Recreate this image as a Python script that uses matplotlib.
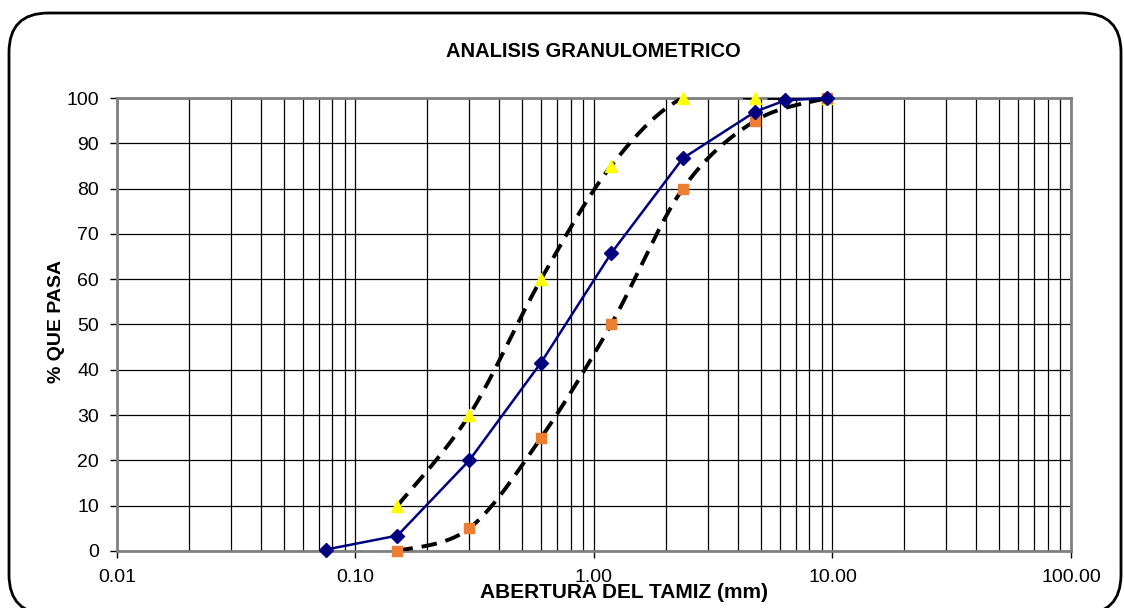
import numpy as np
import matplotlib.pyplot as plt
from matplotlib.patches import FancyBboxPatch
from matplotlib.ticker import FixedLocator, FuncFormatter, LogLocator, NullFormatter

plt.rcParams['font.family'] = ['Liberation Sans', 'DejaVu Sans']

# sieve openings (mm) and % passing
sieve = [0.075, 0.15, 0.30, 0.60, 1.18, 2.36, 4.75, 6.35, 9.525]
passing = [0.3, 3.4, 20.0, 41.6, 65.7, 86.7, 97.0, 99.5, 100.0]

lim_sieve = [0.15, 0.30, 0.60, 1.18, 2.36, 4.75, 9.525]
upper = [10, 30, 60, 85, 100, 100, 100]
lower = [0, 5, 25, 50, 80, 95, 100]


def smooth(xs, ys, n=40):
    # Catmull-Rom through the points in log-x space (Excel style smoothed line)
    lx = np.log10(xs)
    pts = np.column_stack([lx, ys])
    pts = np.vstack([pts[0], pts, pts[-1]])
    out = []
    t = np.linspace(0, 1, n)[:, None]
    for i in range(1, len(pts) - 2):
        p0, p1, p2, p3 = pts[i - 1], pts[i], pts[i + 1], pts[i + 2]
        seg = 0.5 * ((2 * p1) + (-p0 + p2) * t + (2 * p0 - 5 * p1 + 4 * p2 - p3) * t ** 2
                     + (-p0 + 3 * p1 - 3 * p2 + p3) * t ** 3)
        out.append(seg)
    out = np.vstack(out)
    return 10 ** out[:, 0], out[:, 1]


fig = plt.figure(figsize=(11.24, 6.08), dpi=100)
ax = fig.add_axes([0.1041, 0.0938, 0.8487, 0.745])

border = FancyBboxPatch((9 / 1124, -6 / 608), 1112 / 1124, 601 / 608,
                        boxstyle='round,pad=0,rounding_size=0.035',
                        transform=fig.transFigure, fill=False,
                        edgecolor='black', linewidth=2, mutation_aspect=1124 / 608)
fig.patches.append(border)

ax.set_xscale('log')
ax.set_xlim(0.01, 100)
ax.set_ylim(0, 100)

ax.xaxis.set_major_locator(FixedLocator([0.01, 0.1, 1, 10, 100]))
ax.xaxis.set_major_formatter(FuncFormatter(lambda v, p: '%.2f' % v))
ax.xaxis.set_minor_locator(LogLocator(base=10, subs=np.arange(2, 10)))
ax.xaxis.set_minor_formatter(NullFormatter())
ax.set_yticks(np.arange(0, 101, 10))

ax.grid(True, which='both', axis='x', color='black', linewidth=0.9)
ax.grid(True, which='major', axis='y', color='black', linewidth=0.9)
ax.tick_params(axis='x', which='minor', length=0)
ax.tick_params(axis='both', which='major', length=5, width=1, labelsize=14, color='black')
ax.tick_params(axis='x', which='major', pad=8)
ax.tick_params(axis='y', which='major', pad=8)
for s in ax.spines.values():
    s.set_color('#808080')
    s.set_linewidth(2)

ux, uy = smooth(lim_sieve, upper)
lx, ly = smooth(lim_sieve, lower)
ax.plot(ux, uy, color='black', linestyle=(0, (4, 2.3)), linewidth=2.8, zorder=3)
ax.plot(lx, ly, color='black', linestyle=(0, (4, 2.3)), linewidth=2.8, zorder=3)
ax.plot(lim_sieve, upper, linestyle='none', marker='^', color='#ffff00', markersize=8, zorder=4, clip_on=False)
ax.plot(lim_sieve, lower, linestyle='none', marker='s', color='#ed7d31', markersize=7, zorder=4, clip_on=False)
ax.plot(sieve, passing, color='#000080', linewidth=1.8, marker='D', markersize=7.5, zorder=5, clip_on=False)

fig.text(0.5276, 0.9145, 'ANALISIS GRANULOMETRICO', ha='center', va='center',
         fontsize=14.5, fontweight='bold')
fig.text(0.0507, 0.472, '% QUE PASA', ha='center', va='center', rotation=90,
         fontsize=14, fontweight='bold')
fig.text(0.5556, 0.0247, 'ABERTURA DEL TAMIZ (mm)', ha='center', va='center',
         fontsize=15, fontweight='bold')

fig.savefig('out.png', dpi=100)
